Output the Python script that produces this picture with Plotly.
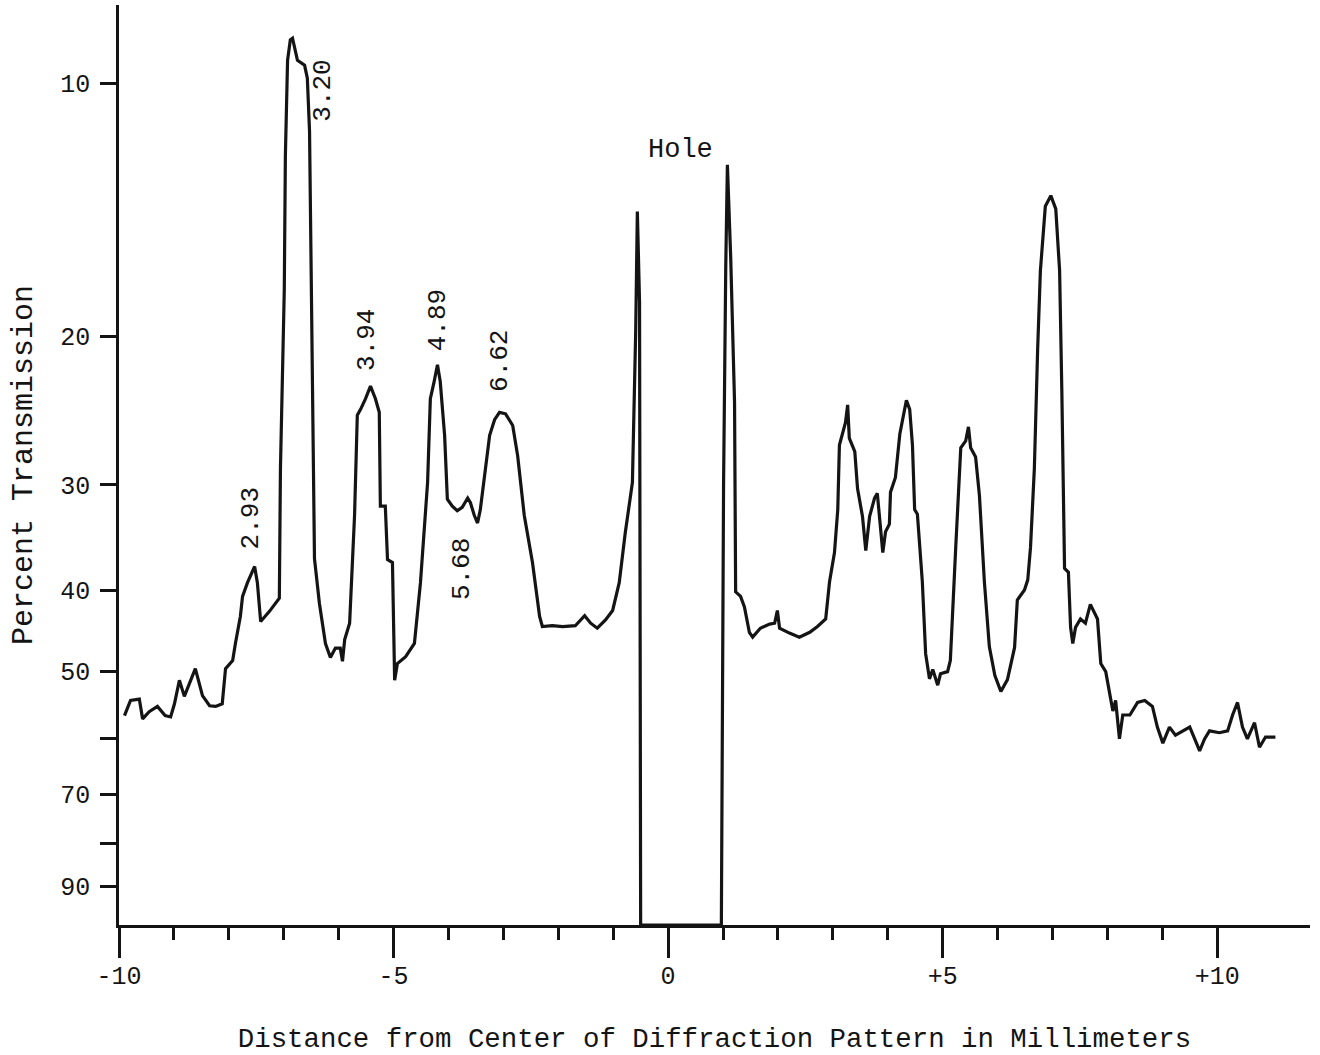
import numpy as np
import plotly.graph_objects as go

# ---- Trace values (x in mm, y in percent transmission) ----
left_x = [-9.90, -9.79, -9.63, -9.57, -9.45, -9.30, -9.16, -9.06, -8.99, -8.90,
          -8.81, -8.72, -8.61, -8.48, -8.35, -8.24, -8.12, -8.06, -7.93, -7.88,
          -7.79, -7.75, -7.66, -7.53, -7.48, -7.42, -7.26, -7.08,
          -7.06, -6.99, -6.97, -6.93, -6.88, -6.84, -6.79, -6.75, -6.62, -6.57,
          -6.53, -6.51, -6.48, -6.44, -6.35, -6.24, -6.15, -6.06, -5.97, -5.93,
          -5.89, -5.80, -5.71, -5.66, -5.60, -5.51, -5.42, -5.33, -5.26, -5.24,
          -5.15, -5.11, -5.02, -4.98, -4.93, -4.78, -4.62, -4.51, -4.38, -4.33,
          -4.26, -4.20, -4.15, -4.07, -4.02, -3.93, -3.84, -3.75, -3.65, -3.60,
          -3.53, -3.47, -3.42, -3.34, -3.25, -3.16, -3.07, -2.96, -2.83, -2.74,
          -2.62, -2.47, -2.34, -2.29, -2.11, -1.92, -1.69, -1.52, -1.41, -1.29,
          -1.14, -1.01, -0.89, -0.78, -0.70, -0.65, -0.59, -0.56, -0.52, -0.50]
left_t = [56.4, 54.1, 53.9, 56.9, 55.8, 55.0, 56.4, 56.6, 54.6, 51.2,
          53.5, 51.7, 49.6, 53.4, 54.9, 55.0, 54.6, 49.6, 48.5, 46.3,
          43.0, 40.7, 39.2, 37.5, 39.2, 43.6, 42.4, 40.9,
          28.7, 17.6, 12.2, 9.39, 8.88, 8.84, 9.16, 9.39, 9.52, 9.86,
          11.4, 15.5, 22.5, 36.7, 41.5, 46.3, 48.1, 46.9, 46.9, 48.6,
          45.8, 43.8, 32.6, 24.8, 24.4, 23.7, 22.9, 23.7, 24.6, 31.8,
          31.8, 36.8, 37.1, 51.2, 48.9, 48.0, 46.3, 39.2, 29.8, 23.7,
          22.6, 21.6, 22.6, 26.2, 31.2, 31.8, 32.2, 31.9, 31.1, 31.5,
          32.6, 33.3, 32.1, 29.0, 26.2, 25.1, 24.6, 24.7, 25.5, 27.7,
          32.6, 37.1, 43.0, 44.2, 44.1, 44.2, 44.1, 42.9, 43.8, 44.4,
          43.4, 42.3, 39.2, 34.2, 31.5, 29.8, 19.7, 14.2, 18.2, 100.0]

right_x = [0.97, 1.01, 1.05, 1.08, 1.14, 1.21, 1.23, 1.32, 1.39, 1.48,
           1.54, 1.68, 1.85, 1.94, 1.99, 2.03, 2.21, 2.39, 2.58, 2.72,
           2.87, 2.94, 3.03, 3.09, 3.12, 3.18, 3.23, 3.27, 3.30, 3.40,
           3.45, 3.54, 3.60, 3.67, 3.76, 3.81, 3.87, 3.91, 3.96, 4.03,
           4.05, 4.14, 4.22, 4.27, 4.34, 4.40, 4.45, 4.49, 4.54, 4.63,
           4.69, 4.76, 4.82, 4.91, 4.96, 5.09, 5.14, 5.24, 5.33, 5.42,
           5.47, 5.51, 5.60, 5.67, 5.76, 5.85, 5.95, 6.06, 6.18, 6.31,
           6.36, 6.49, 6.55, 6.60, 6.67, 6.73, 6.78, 6.87, 6.97, 7.06,
           7.13, 7.17, 7.22, 7.29, 7.33, 7.37, 7.42, 7.51, 7.60, 7.69,
           7.82, 7.88, 7.97, 8.06, 8.10, 8.15, 8.22, 8.28, 8.41, 8.55,
           8.68, 8.82, 8.91, 9.01, 9.13, 9.24, 9.37, 9.50, 9.59, 9.68,
           9.77, 9.86, 10.04, 10.19, 10.28, 10.37, 10.46, 10.55, 10.68, 10.77,
           10.88, 11.06]
right_t = [100.0, 30.0, 16.5, 12.5, 16.1, 23.9, 40.2, 40.7, 41.9, 44.9,
           45.5, 44.4, 43.9, 43.8, 42.3, 44.4, 45.0, 45.5, 44.9, 44.2,
           43.3, 39.1, 36.1, 32.1, 26.9, 26.1, 25.3, 24.1, 26.4, 27.4,
           30.3, 32.7, 35.9, 32.7, 31.1, 30.7, 34.1, 36.1, 34.1, 33.4,
           30.6, 29.4, 26.1, 25.1, 23.8, 24.4, 26.9, 32.1, 32.5, 39.1,
           47.6, 51.0, 49.7, 51.9, 50.3, 50.0, 48.5, 35.4, 27.1, 26.6,
           25.6, 27.1, 27.8, 30.9, 39.1, 46.7, 50.5, 52.8, 51.1, 46.8,
           41.1, 40.0, 38.9, 35.6, 28.7, 20.7, 16.7, 14.0, 13.6, 14.1,
           16.7, 23.1, 37.7, 38.1, 44.3, 46.3, 44.3, 43.3, 43.8, 41.6,
           43.3, 48.9, 50.0, 53.9, 55.7, 54.1, 60.1, 56.3, 56.3, 54.4,
           54.1, 55.0, 58.2, 60.8, 58.2, 59.5, 58.8, 58.2, 60.1, 62.1,
           60.1, 58.8, 59.1, 58.8, 56.3, 54.4, 58.2, 60.1, 57.5, 61.5,
           59.8, 59.8]

# Peak labels (d-spacings) and where they sit
peak_labels = ["3.20", "2.93", "3.94", "4.89", "6.62", "5.68"]
peak_label_x = [-6.30, -7.60, -5.47, -4.20, -3.05, -3.74]
peak_label_t = [10.2, 32.9, 20.2, 19.1, 21.4, 37.8]
hole_label = "Hole"
hole_label_x = 0.23
hole_label_t = 12.0

# Axis ticks
x_major = [-10, -5, 0, 5, 10]
x_major_text = ["-10", "-5", "0", "+5", "+10"]
x_minor = [-9, -8, -7, -6, -4, -3, -2, -1, 1, 2, 3, 4, 6, 7, 8, 9]
y_ticks = [10, 20, 30, 40, 50, 60, 70, 80, 90]
y_tick_text = ["10", "20", "30", "40", "50", "", "70", "", "90"]

FONT = "Liberation Mono"
INK = "#141414"

x_all = left_x + right_x
t_all = left_t + right_t

fig = go.Figure()
fig.add_trace(go.Scatter(x=x_all, y=t_all, mode="lines",
                         line=dict(color=INK, width=3.2),
                         hoverinfo="skip", showlegend=False))

annotations = []
for lab, lx, lt in zip(peak_labels, peak_label_x, peak_label_t):
    annotations.append(dict(x=lx, y=np.log10(lt), xref="x", yref="y", text=lab,
                            showarrow=False, textangle=-90, xanchor="center",
                            yanchor="middle",
                            font=dict(family=FONT, size=26, color=INK)))
annotations.append(dict(x=hole_label_x, y=np.log10(hole_label_t), xref="x", yref="y",
                        text=hole_label, showarrow=False, xanchor="center",
                        yanchor="middle", font=dict(family=FONT, size=27, color=INK)))

fig.update_layout(
    width=1320, height=1055,
    margin=dict(l=119, r=10, t=5, b=130, pad=0),
    paper_bgcolor="white", plot_bgcolor="white",
    showlegend=False,
    annotations=annotations,
    xaxis=dict(
        range=[-10, 11.69], showline=True, linecolor=INK, linewidth=2.5,
        showgrid=False, zeroline=False, automargin=False,
        ticks="outside", tickvals=x_major, ticktext=x_major_text,
        ticklen=30, tickwidth=2.5, tickcolor=INK, ticklabelstandoff=-4,
        tickfont=dict(family=FONT, size=25, color=INK),
        minor=dict(tickvals=x_minor, ticks="outside", ticklen=12,
                   tickwidth=2.5, tickcolor=INK, showgrid=False),
        title=dict(text="Distance from Center of Diffraction Pattern in Millimeters",
                   font=dict(family=FONT, size=27.4, color=INK), standoff=38),
    ),
    yaxis=dict(
        type="log", range=[2.0, 0.907], showline=True, linecolor=INK, linewidth=2.5,
        showgrid=False, zeroline=False, automargin=False,
        ticks="outside", tickvals=y_ticks, ticktext=y_tick_text,
        ticklen=16, tickwidth=2.5, tickcolor=INK, ticklabelstandoff=5,
        tickfont=dict(family=FONT, size=25, color=INK),
        title=dict(text="Percent Transmission",
                   font=dict(family=FONT, size=30, color=INK), standoff=19),
    ),
)

fig.write_html("out.html",
               config={"displayModeBar": False},
               post_script="document.body.style.margin='0';document.body.style.overflow='hidden';")
